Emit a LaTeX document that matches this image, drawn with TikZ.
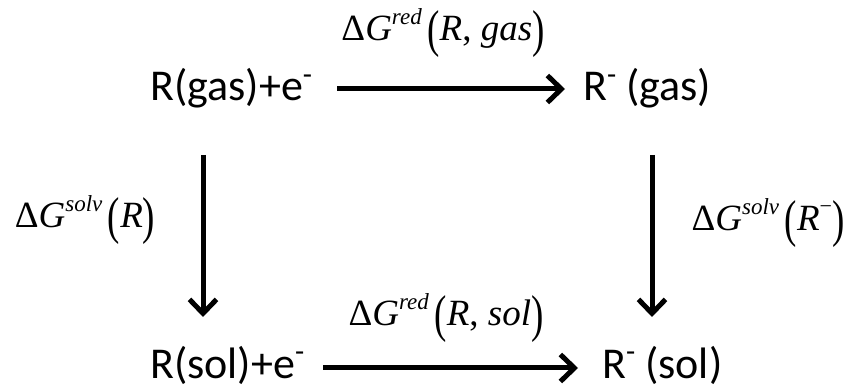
\documentclass[tikz,border=0pt]{standalone}
\usepackage{fontspec}
\setmainfont{Carlito}
\newfontfamily\tms{Liberation Serif}
\usepackage{graphicx}
\usetikzlibrary{arrows.meta}
\newcommand\lpar{\raisebox{-0.15em}{\scalebox{1}[1.4]{(}}}
\newcommand\rpar{\raisebox{-0.15em}{\scalebox{1}[1.4]{)}}}
\newcommand\supm{\raisebox{0.38em}{\fontsize{30}{30}\selectfont -}}
\newcommand\dG[1]{Δ\textit{G}\raisebox{0.42em}{\fontsize{23}{23}\selectfont\textit{#1}}\kern0.15em}
\begin{document}
\begin{tikzpicture}[x=1pt,y=-1pt,
  txt/.style={inner sep=0pt,anchor=base west,font=\fontsize{44}{50}\selectfont},
  lab/.style={inner sep=0pt,font=\tms\fontsize{37}{40}\selectfont},
  arr/.style={line width=5pt,-{Straight Barb[length=14pt,width=27pt]}}]
\useasboundingbox (0,0) rectangle (855,390);
\node[txt] (a) at (150,101) {R(gas)+e\supm};
\node[txt] (b) at (583,101) {R\supm\ (gas)};
\node[txt] (c) at (150,378) {R(sol)+e\supm};
\node[txt] (d) at (602,378) {R\supm\ (sol)};
\node[lab] (la) at (443,33) {\dG{red}\lpar\textit{R}, \textit{gas}\rpar};
\node[lab] (lb) at (446,318) {\dG{red}\lpar\textit{R}, \textit{sol}\rpar};
\node[lab] (lc) at (85,220) {\dG{solv}\lpar\textit{R}\rpar};
\node[lab] (ld) at (768,223) {\dG{solv}\lpar\textit{R}\raisebox{0.45em}{\fontsize{22}{22}\selectfont −}\rpar};
\coordinate (a1) at (203,155);
\coordinate (c1) at (203,317);
\coordinate (b1) at (652,155);
\coordinate (d1) at (652,317);
\coordinate (a2) at (337,89);
\coordinate (b2) at (565,89);
\coordinate (c2) at (323,368);
\coordinate (d2) at (578,368);
\draw[arr] (a2) -- (b2);
\draw[arr] (a1) -- (c1);
\draw[arr] (b1) -- (d1);
\draw[arr] (c2) -- (d2);
\end{tikzpicture}
\end{document}
